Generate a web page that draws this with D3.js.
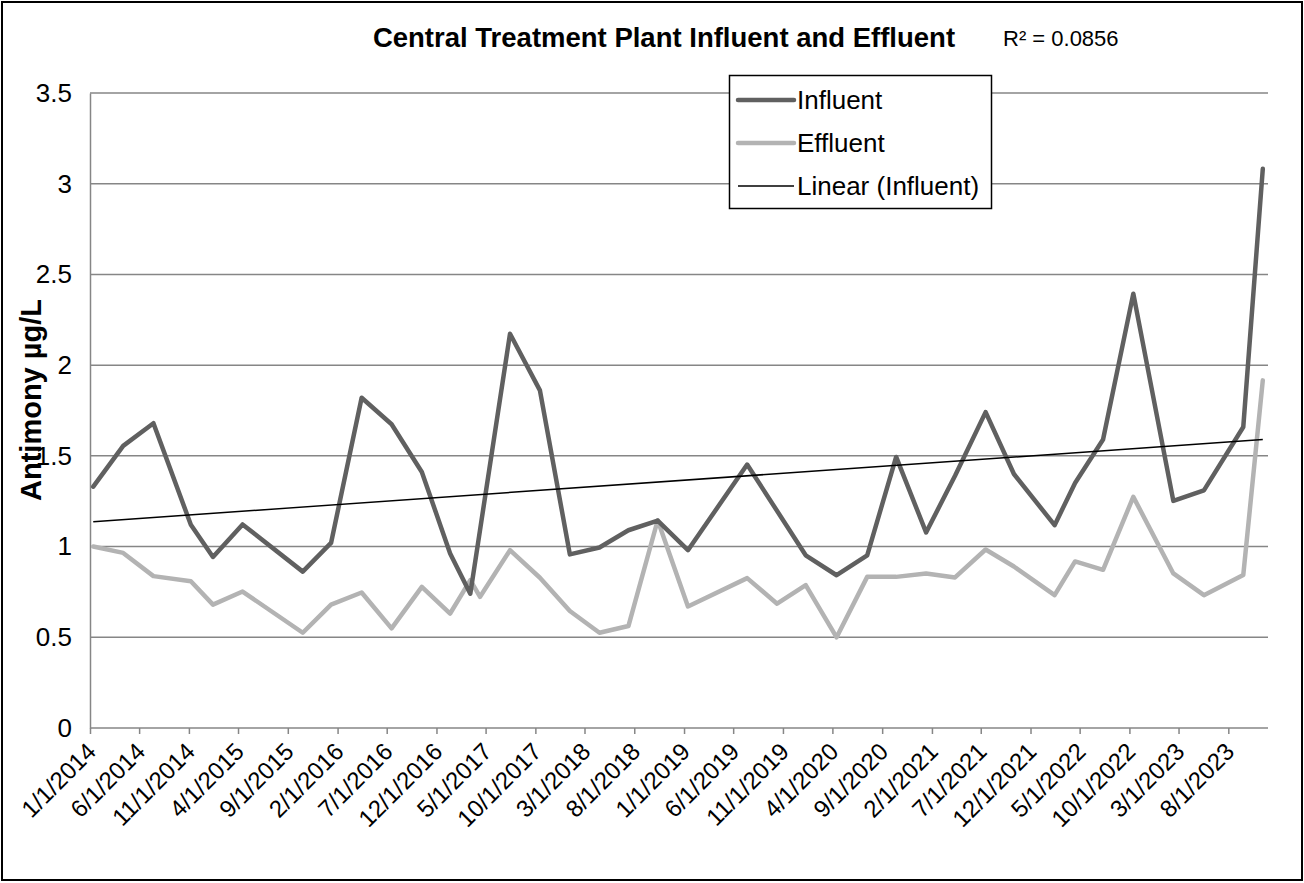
<!DOCTYPE html>
<html>
<head>
<meta charset="utf-8">
<script src="https://cdn.jsdelivr.net/npm/d3@7"></script>
<style>
  html, body { margin: 0; padding: 0; background: #fff; }
  svg { display: block; }
  text { font-family: "Liberation Sans", Arial, sans-serif; fill: #000; }
</style>
</head>
<body>
<svg id="chart" width="1304" height="883"></svg>
<script>
// ---- data ----
const sampleDates = [
  "2014-01-11","2014-04-13","2014-07-15","2014-11-07","2015-01-14","2015-04-15",
  "2015-10-17","2016-01-12","2016-04-15","2016-07-16","2016-10-17","2017-01-12",
  "2017-03-15","2017-04-14","2017-07-15","2017-10-15","2018-01-15","2018-04-16",
  "2018-07-14","2018-10-12","2019-01-13","2019-07-14","2019-10-14","2020-01-10",
  "2020-04-14","2020-07-17","2020-10-14","2021-01-14","2021-04-13","2021-07-16",
  "2021-10-11","2022-02-13","2022-04-17","2022-07-12","2022-10-13","2023-02-13",
  "2023-05-18","2023-09-16","2023-11-15"
];
const influent = [
  1.33, 1.555, 1.68, 1.12, 0.943, 1.122,
  0.862, 1.02, 1.82, 1.674, 1.411, 0.962,
  0.74, null, 2.173, 1.861, 0.957, 0.995,
  1.09, 1.143, 0.98, 1.452, null, 0.952,
  0.842, 0.952, 1.494, 1.078, 1.39, 1.741,
  1.40, 1.118, 1.35, 1.59, 2.394, 1.252,
  1.31, 1.659, 3.082
];
const effluent = [
  1.00, 0.965, 0.837, 0.809, 0.68, 0.752,
  0.525, 0.68, 0.747, 0.549, 0.778, 0.631,
  0.815, 0.723, 0.98, 0.828, 0.645, 0.525,
  0.562, 1.145, 0.67, 0.826, 0.685, 0.788,
  0.50, 0.833, 0.833, 0.852, 0.83, 0.984,
  0.89, 0.732, 0.918, 0.872, 1.274, 0.852,
  0.732, 0.843, 1.916
];
const xTickLabels = [
  "1/1/2014","6/1/2014","11/1/2014","4/1/2015","9/1/2015","2/1/2016","7/1/2016",
  "12/1/2016","5/1/2017","10/1/2017","3/1/2018","8/1/2018","1/1/2019","6/1/2019",
  "11/1/2019","4/1/2020","9/1/2020","2/1/2021","7/1/2021","12/1/2021","5/1/2022",
  "10/1/2022","3/1/2023","8/1/2023"
];
const yTickValues = [0, 0.5, 1, 1.5, 2, 2.5, 3, 3.5];
const xDomainLabels = ["1/1/2014", "12/1/2023"];
const seriesNames = ["Influent", "Effluent", "Linear (Influent)"];
const titleText = "Central Treatment Plant Influent and Effluent";
const r2Text = "R\u00B2 = 0.0856";
const yAxisTitle = "Antimony \u00B5g/L";

// ---- setup ----
const svg = d3.select("#chart");
const W = 1304, H = 883;
const plot = { left: 90, right: 1268, top: 93, bottom: 728 };
const parseISO = d3.timeParse("%Y-%m-%d");
const parseUS = d3.timeParse("%m/%d/%Y");

const dates = sampleDates.map(parseISO);
const x = d3.scaleTime()
  .domain(xDomainLabels.map(parseUS))
  .range([plot.left, plot.right]);
const y = d3.scaleLinear().domain([0, 3.5]).range([plot.bottom, plot.top]);

const gridColor = "#868686";
const FONT = "Liberation Sans, Arial, sans-serif";

// outer border
svg.append("rect")
  .attr("x", 2).attr("y", 2).attr("width", W - 4).attr("height", H - 5)
  .attr("fill", "#fff").attr("stroke", "#000").attr("stroke-width", 2);

// gridlines
svg.append("g").selectAll("line").data(yTickValues.filter(v => v > 0)).join("line")
  .attr("x1", plot.left).attr("x2", plot.right)
  .attr("y1", d => y(d)).attr("y2", d => y(d))
  .attr("stroke", gridColor).attr("stroke-width", 1.5);

// y axis
const yAxis = d3.axisLeft(y).tickValues(yTickValues).tickSize(0).tickPadding(18)
  .tickFormat(d => String(d));
const gy = svg.append("g").attr("transform", `translate(${plot.left},0)`).call(yAxis);
gy.select(".domain").attr("stroke", gridColor).attr("stroke-width", 1.5);
gy.selectAll("text").attr("font-size", 26).attr("font-family", FONT).attr("fill", "#000");

// x axis
const xTicks = xTickLabels.map(parseUS);
const xAxis = d3.axisBottom(x).tickValues(xTicks).tickSize(6).tickFormat((d, i) => xTickLabels[i]);
const gx = svg.append("g").attr("transform", `translate(0,${plot.bottom})`).call(xAxis);
gx.select(".domain").attr("stroke", gridColor).attr("stroke-width", 1.5).attr("d", `M${plot.left},0H${plot.right}`);
gx.selectAll(".tick line").attr("stroke", gridColor).attr("stroke-width", 1.5);
gx.selectAll("text")
  .attr("font-size", 24).attr("font-family", FONT).attr("fill", "#000")
  .attr("text-anchor", "end")
  .attr("dy", null).attr("y", 0)
  .attr("transform", "translate(7,25) rotate(-45)");

// lines
const lineGen = d3.line()
  .defined(d => d.v !== null)
  .x(d => x(d.date)).y(d => y(d.v));
const infData = dates.map((d, i) => ({ date: d, v: influent[i] })).filter(d => d.v !== null);
const effData = dates.map((d, i) => ({ date: d, v: effluent[i] })).filter(d => d.v !== null);

svg.append("path").datum(effData).attr("d", lineGen)
  .attr("fill", "none").attr("stroke", "#b3b3b3").attr("stroke-width", 4.5)
  .attr("stroke-linejoin", "round").attr("stroke-linecap", "round");
svg.append("path").datum(infData).attr("d", lineGen)
  .attr("fill", "none").attr("stroke", "#606060").attr("stroke-width", 4.5)
  .attr("stroke-linejoin", "round").attr("stroke-linecap", "round");

// linear trend of influent (least squares over date)
const xs = infData.map(d => +d.date), ys = infData.map(d => d.v);
const mx = d3.mean(xs), my = d3.mean(ys);
const slope = d3.sum(xs.map((v, i) => (v - mx) * (ys[i] - my))) / d3.sum(xs.map(v => (v - mx) ** 2));
const icpt = my - slope * mx;
const tx0 = d3.min(xs), tx1 = d3.max(xs);
svg.append("line")
  .attr("x1", x(new Date(tx0))).attr("y1", y(icpt + slope * tx0))
  .attr("x2", x(new Date(tx1))).attr("y2", y(icpt + slope * tx1))
  .attr("stroke", "#000").attr("stroke-width", 1.5);

// title and R2
svg.append("text").attr("x", 664).attr("y", 47).attr("text-anchor", "middle")
  .attr("font-size", 27.5).attr("font-weight", "bold").text(titleText);
svg.append("text").attr("x", 1003).attr("y", 46).attr("font-size", 22).text(r2Text);

// y axis title
svg.append("text")
  .attr("transform", "translate(41,400) rotate(-90)")
  .attr("text-anchor", "middle").attr("font-size", 29).attr("font-weight", "bold")
  .text(yAxisTitle);

// legend
const lg = svg.append("g");
lg.append("rect").attr("x", 729.5).attr("y", 75.5).attr("width", 262).attr("height", 133)
  .attr("fill", "#fff").attr("stroke", "#000").attr("stroke-width", 1.5);
const legendStyles = [
  { color: "#606060", width: 4.5 },
  { color: "#b3b3b3", width: 4.5 },
  { color: "#000", width: 1.5 }
];
seriesNames.forEach((name, i) => {
  const cy = 100 + i * 43;
  lg.append("line").attr("x1", 738).attr("x2", 794).attr("y1", cy).attr("y2", cy)
    .attr("stroke", legendStyles[i].color).attr("stroke-width", legendStyles[i].width)
    .attr("stroke-linecap", i < 2 ? "round" : "butt");
  lg.append("text").attr("x", 797).attr("y", cy + 9).attr("font-size", 26).text(name);
});
</script>
</body>
</html>
